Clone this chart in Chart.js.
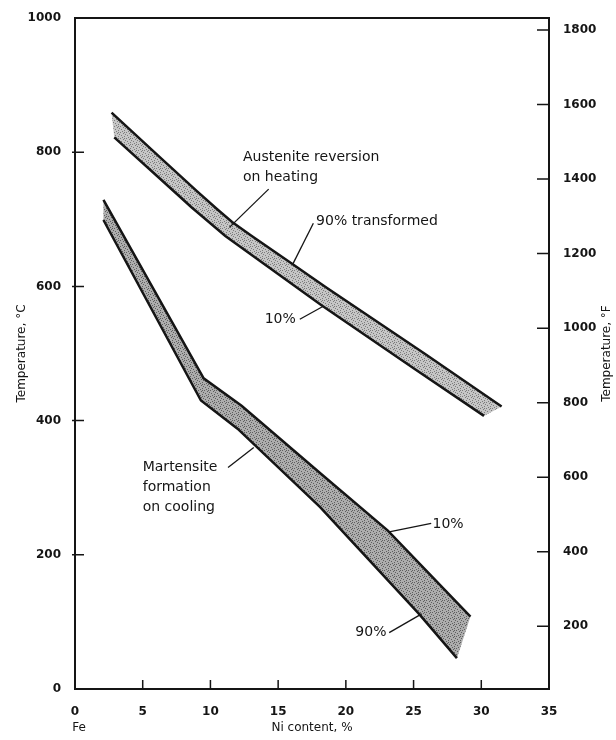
<!DOCTYPE html>
<html>
<head>
<meta charset="utf-8">
<script src="https://cdn.jsdelivr.net/npm/chart.js@4.4.1/dist/chart.umd.min.js"></script>
<style>
  html, body { margin: 0; padding: 0; background: #fff; }
  #wrap { width: 616px; height: 740px; }
</style>
</head>
<body>
<div id="wrap"><canvas id="chart" width="616" height="740"></canvas></div>
<script>
// Ni content (%) vs temperature (°C)
const heat90X = [2.7, 6.3, 9, 10.5, 11.6, 13, 16, 18.5, 25.8, 31.5];
const heat90Y = [859, 792, 742, 715, 696, 676, 634, 599, 500, 421];
const heat10X = [2.9, 6.2, 8.6, 11.1, 18.2, 25, 30.2];
const heat10Y = [822, 762, 718, 675, 572, 478, 407];

const cool10X = [2.1, 9.5, 12.3, 18.2, 23.1, 29.2];
const cool10Y = [729, 463, 422, 320, 236, 108];
const cool90X = [2.1, 9.3, 12.0, 18.1, 25.4, 28.2];
const cool90Y = [699, 430, 388, 271, 112, 46];

const niTicks = [0, 5, 10, 15, 20, 25, 30, 35];
const tempCTicks = [0, 200, 400, 600, 800, 1000];
const tempFTicks = [200, 400, 600, 800, 1000, 1200, 1400, 1600, 1800];

const ink = '#151515';
const pts = (xs, ys) => xs.map((x, i) => ({ x: x, y: ys[i] }));
// closed outline of a band: one edge out, the other edge back
const band = (ax, ay, bx, by) => pts(ax, ay).concat(pts(bx, by).reverse());

const canvas = document.getElementById('chart');
const ctx = canvas.getContext('2d');

// grey stipple like the printed shading
function stipple(base, dot) {
  const c = document.createElement('canvas');
  c.width = 6; c.height = 6;
  const g = c.getContext('2d');
  g.fillStyle = base;
  g.fillRect(0, 0, 6, 6);
  g.fillStyle = dot;
  [[0, 0], [3, 1], [1, 3], [4, 4], [5, 2], [2, 5], [4, 0]].forEach(function(p) { g.fillRect(p[0], p[1], 1, 1); });
  return ctx.createPattern(c, 'repeat');
}

// labels with leader lines, placed in data units
const notes = [
  { lines: ['Austenite reversion', 'on heating'], at: [12.4, 793], align: 'left', leader: [[14.3, 745], [11.4, 688]] },
  { lines: ['90% transformed'], at: [17.8, 697], align: 'left', leader: [[17.6, 694], [16.1, 634]] },
  { lines: ['10%'], at: [16.3, 551], align: 'right', leader: [[16.6, 551], [18.3, 570]] },
  { lines: ['Martensite', 'formation', 'on cooling'], at: [5.0, 330], align: 'left', leader: [[11.3, 330], [13.2, 360]] },
  { lines: ['10%'], at: [26.4, 246], align: 'left', leader: [[26.3, 247], [23.2, 234]] },
  { lines: ['90%'], at: [23.0, 84], align: 'right', leader: [[23.2, 84], [25.6, 112]] }
];

const extras = {
  id: 'extras',
  afterDraw(chart) {
    const c = chart.ctx;
    const a = chart.chartArea;
    const x = chart.scales.x, y = chart.scales.y, yF = chart.scales.yF;
    c.save();
    c.strokeStyle = ink;
    c.lineWidth = 2;
    c.beginPath();
    c.moveTo(a.left - 1, a.top);
    c.lineTo(a.right + 1, a.top);
    c.stroke();

    // inward tick marks
    c.lineWidth = 1.5;
    c.beginPath();
    niTicks.slice(1, -1).forEach(function(v) {
      const px = x.getPixelForValue(v);
      c.moveTo(px, a.bottom); c.lineTo(px, a.bottom - 9);
    });
    tempCTicks.slice(1, -1).forEach(function(v) {
      const py = y.getPixelForValue(v);
      c.moveTo(a.left - 3, py); c.lineTo(a.left + 9, py);
    });
    tempFTicks.forEach(function(v) {
      const py = yF.getPixelForValue(v);
      c.moveTo(a.right - 12, py); c.lineTo(a.right, py);
    });
    c.stroke();

    // notes
    c.fillStyle = ink;
    c.font = '14px "DejaVu Sans"';
    c.textBaseline = 'middle';
    c.lineWidth = 1.3;
    notes.forEach(function(n) {
      const tx = x.getPixelForValue(n.at[0]);
      const ty = y.getPixelForValue(n.at[1]);
      c.textAlign = n.align;
      n.lines.forEach(function(t, i) { c.fillText(t, tx, ty + i * 20); });
      c.beginPath();
      c.moveTo(x.getPixelForValue(n.leader[0][0]), y.getPixelForValue(n.leader[0][1]));
      c.lineTo(x.getPixelForValue(n.leader[1][0]), y.getPixelForValue(n.leader[1][1]));
      c.stroke();
    });

    // "Fe" under the zero, and the °F title reading upward
    c.font = '12px "DejaVu Sans"';
    c.textAlign = 'center';
    c.fillText('Fe', x.getPixelForValue(0) + 4, 728);
    c.translate(607, (a.top + a.bottom) / 2);
    c.rotate(-Math.PI / 2);
    c.fillText('Temperature, °F', 0, 0);
    c.restore();
  }
};

const tickFont = { family: 'DejaVu Sans', size: 12, weight: 'bold' };
const titleFont = { family: 'DejaVu Sans', size: 12 };
const border = { display: true, color: ink, width: 2 };
const plain = function(v) { return String(v); };

function edge(label, data) {
  return { label: label, data: data, borderColor: ink, borderWidth: 2.5, pointRadius: 0,
           tension: 0, fill: false, order: 1 };
}
function shade(label, data, pattern) {
  return { label: label, data: data, borderColor: 'rgba(0,0,0,0)', borderWidth: 1, pointRadius: 0,
           tension: 0, fill: 'shape', backgroundColor: pattern, order: 2 };
}

new Chart(ctx, {
  type: 'line',
  data: {
    datasets: [
      shade('Austenite band', band(heat90X, heat90Y, heat10X, heat10Y), stipple('#c6c6c6', '#7c7c7c')),
      shade('Martensite band', band(cool10X, cool10Y, cool90X, cool90Y), stipple('#adadad', '#5e5e5e')),
      edge('Austenite 90%', pts(heat90X, heat90Y)),
      edge('Austenite 10%', pts(heat10X, heat10Y)),
      edge('Martensite 10%', pts(cool10X, cool10Y)),
      edge('Martensite 90%', pts(cool90X, cool90Y))
    ]
  },
  options: {
    responsive: false,
    animation: false,
    devicePixelRatio: 1,
    layout: { padding: { top: 18 } },
    plugins: {
      legend: { display: false },
      tooltip: { enabled: false }
    },
    scales: {
      x: {
        type: 'linear', position: 'bottom', min: 0, max: 35,
        grid: { display: false }, border: border,
        afterBuildTicks: function(s) { s.ticks = niTicks.map(function(v) { return { value: v }; }); },
        afterFit: function(s) { s.height = 51; },
        ticks: { padding: 8, color: ink, font: tickFont, callback: plain },
        title: { display: true, text: 'Ni content, %', color: ink, font: titleFont, padding: { top: 0, bottom: 5 } }
      },
      y: {
        type: 'linear', position: 'left', min: 0, max: 1000,
        grid: { display: false }, border: border,
        afterBuildTicks: function(s) { s.ticks = tempCTicks.map(function(v) { return { value: v }; }); },
        afterFit: function(s) { s.width = 75; },
        ticks: { padding: 6, color: ink, font: tickFont, callback: plain },
        title: { display: true, text: 'Temperature, °C', color: ink, font: titleFont, padding: { top: 15, bottom: 0 } }
      },
      yF: {
        type: 'linear', position: 'right', min: 32, max: 1832,
        grid: { display: false }, border: border,
        afterBuildTicks: function(s) { s.ticks = tempFTicks.map(function(v) { return { value: v }; }); },
        afterFit: function(s) { s.width = 67; },
        ticks: { padding: 6, color: ink, font: tickFont, callback: plain }
      }
    }
  },
  plugins: [extras]
});
</script>
</body>
</html>
